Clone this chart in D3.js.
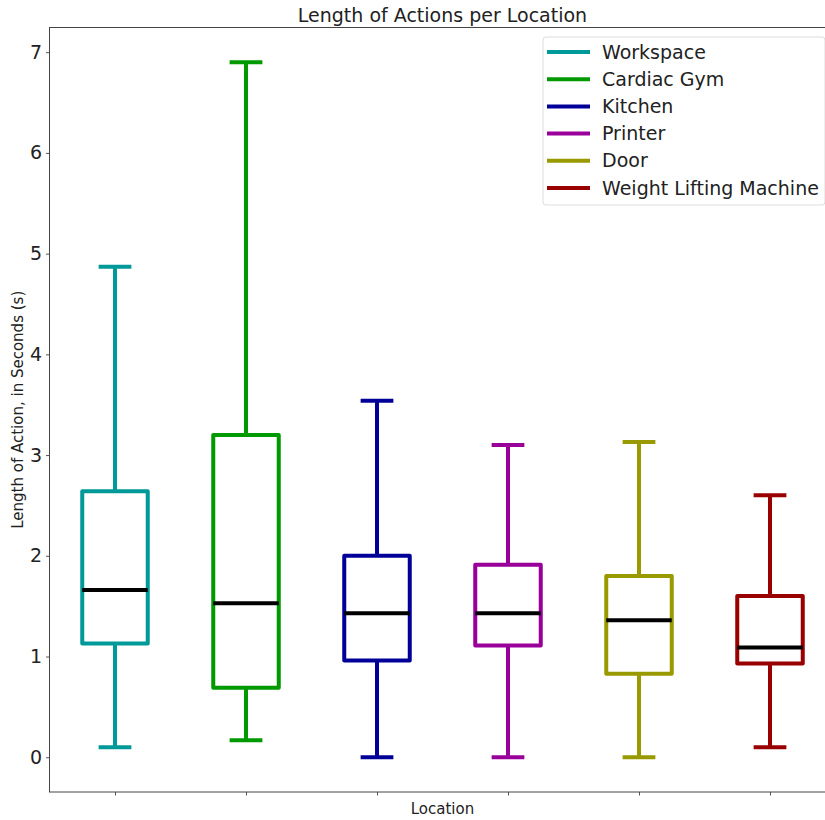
<!DOCTYPE html>
<html>
<head>
<meta charset="utf-8">
<script src="https://cdn.jsdelivr.net/npm/d3@7"></script>
<style>
  body { margin: 0; background: #fff; }
  svg { display: block; font-family: "DejaVu Sans", sans-serif; }
</style>
</head>
<body>
<div id="chart"></div>
<script>
// data
const locations = ['Workspace', 'Cardiac Gym', 'Kitchen', 'Printer', 'Door', 'Weight Lifting Machine']
const colors = ['#009999', '#009900', '#000099', '#990099', '#999900', '#990000']
const whiskerLow = [0.1, 0.17, 0.0, 0.0, 0.0, 0.1]
const q1 = [1.13, 0.69, 0.96, 1.11, 0.83, 0.93]
const medians = [1.66, 1.53, 1.43, 1.43, 1.36, 1.09]
const q3 = [2.64, 3.2, 2.0, 1.91, 1.8, 1.6]
const whiskerHigh = [4.87, 6.9, 3.54, 3.1, 3.13, 2.6]
const yTicks = [0, 1, 2, 3, 4, 5, 6, 7]

const boxes = locations.map((name, i) => ({
  name, color: colors[i], pos: i + 1,
  lo: whiskerLow[i], q1: q1[i], med: medians[i], q3: q3[i], hi: whiskerHigh[i]
}))

const width = 825, height = 820
const margin = { top: 27.5, left: 49.5, bottom: 28, right: -10.5 }
const innerRight = width - margin.right
const innerBottom = height - margin.bottom

const svg = d3.select('#chart')
  .append('svg')
  .attr('width', width)
  .attr('height', height)

const x = d3.scaleLinear().domain([0.5, 6.5]).range([margin.left, innerRight])
const y = d3.scaleLinear().domain([-0.345, 7.245]).range([innerBottom, margin.top])

const boxW = x(1.25) - x(1)
const capW = x(1.125) - x(1)
const lw = 4

const g = svg.append('g')

boxes.forEach(d => {
  const cx = x(d.pos)
  const bg = g.append('g').attr('stroke', d.color).attr('stroke-width', lw).attr('fill', 'none')
  // whiskers
  bg.append('line').attr('x1', cx).attr('x2', cx).attr('y1', y(d.q1)).attr('y2', y(d.lo))
  bg.append('line').attr('x1', cx).attr('x2', cx).attr('y1', y(d.q3)).attr('y2', y(d.hi))
  // caps
  bg.append('line').attr('x1', cx - capW).attr('x2', cx + capW).attr('y1', y(d.lo)).attr('y2', y(d.lo))
  bg.append('line').attr('x1', cx - capW).attr('x2', cx + capW).attr('y1', y(d.hi)).attr('y2', y(d.hi))
  // box
  bg.append('rect')
    .attr('x', cx - boxW).attr('width', boxW * 2)
    .attr('y', y(d.q3)).attr('height', y(d.q1) - y(d.q3))
    .attr('stroke-linejoin', 'round')
  // median
  g.append('line')
    .attr('x1', cx - boxW).attr('x2', cx + boxW)
    .attr('y1', y(d.med)).attr('y2', y(d.med))
    .attr('stroke', '#000').attr('stroke-width', lw)
})

// axes
const yAxis = svg.append('g')
  .attr('transform', `translate(${margin.left},0)`)
  .call(d3.axisLeft(y).tickValues(yTicks).tickSize(3.5).tickPadding(4).tickFormat(d3.format('d')))
const xAxis = svg.append('g')
  .attr('transform', `translate(0,${innerBottom})`)
  .call(d3.axisBottom(x).tickValues(boxes.map(d => d.pos)).tickSize(3.5).tickFormat(''))

yAxis.selectAll('text').attr('font-size', 19).attr('fill', '#222').attr('font-family', 'DejaVu Sans')
;[yAxis, xAxis].forEach(a => {
  a.select('.domain').remove()
  a.selectAll('line').attr('stroke', '#555')
})

// spines
svg.append('rect')
  .attr('x', margin.left).attr('y', margin.top)
  .attr('width', innerRight - margin.left).attr('height', innerBottom - margin.top)
  .attr('fill', 'none').attr('stroke', '#444').attr('stroke-width', 1)

// titles
svg.append('text')
  .attr('x', (margin.left + innerRight) / 2).attr('y', 22)
  .attr('text-anchor', 'middle').attr('font-size', 19).attr('fill', '#222')
  .text('Length of Actions per Location')
svg.append('text')
  .attr('x', (margin.left + innerRight) / 2).attr('y', 814)
  .attr('text-anchor', 'middle').attr('font-size', 15).attr('fill', '#222')
  .text('Location')
svg.append('text')
  .attr('transform', `translate(23,${(margin.top + innerBottom) / 2}) rotate(-90)`)
  .attr('text-anchor', 'middle').attr('font-size', 15).attr('fill', '#222')
  .text('Length of Action, in Seconds (s)')

// legend
const legend = svg.append('g').attr('transform', 'translate(543,37)')
legend.append('rect')
  .attr('width', 282).attr('height', 168).attr('rx', 3)
  .attr('fill', '#fff').attr('fill-opacity', 0.8)
  .attr('stroke', '#ddd').attr('stroke-width', 1)
const items = legend.selectAll('g.item').data(boxes).enter().append('g')
  .attr('transform', (d, i) => `translate(0,${15 + i * 27.2})`)
items.append('line')
  .attr('x1', 4).attr('x2', 47)
  .attr('stroke', d => d.color).attr('stroke-width', 4)
items.append('text')
  .attr('x', 59).attr('dy', '0.35em')
  .attr('font-size', 19).attr('fill', '#222')
  .text(d => d.name)
</script>
</body>
</html>
